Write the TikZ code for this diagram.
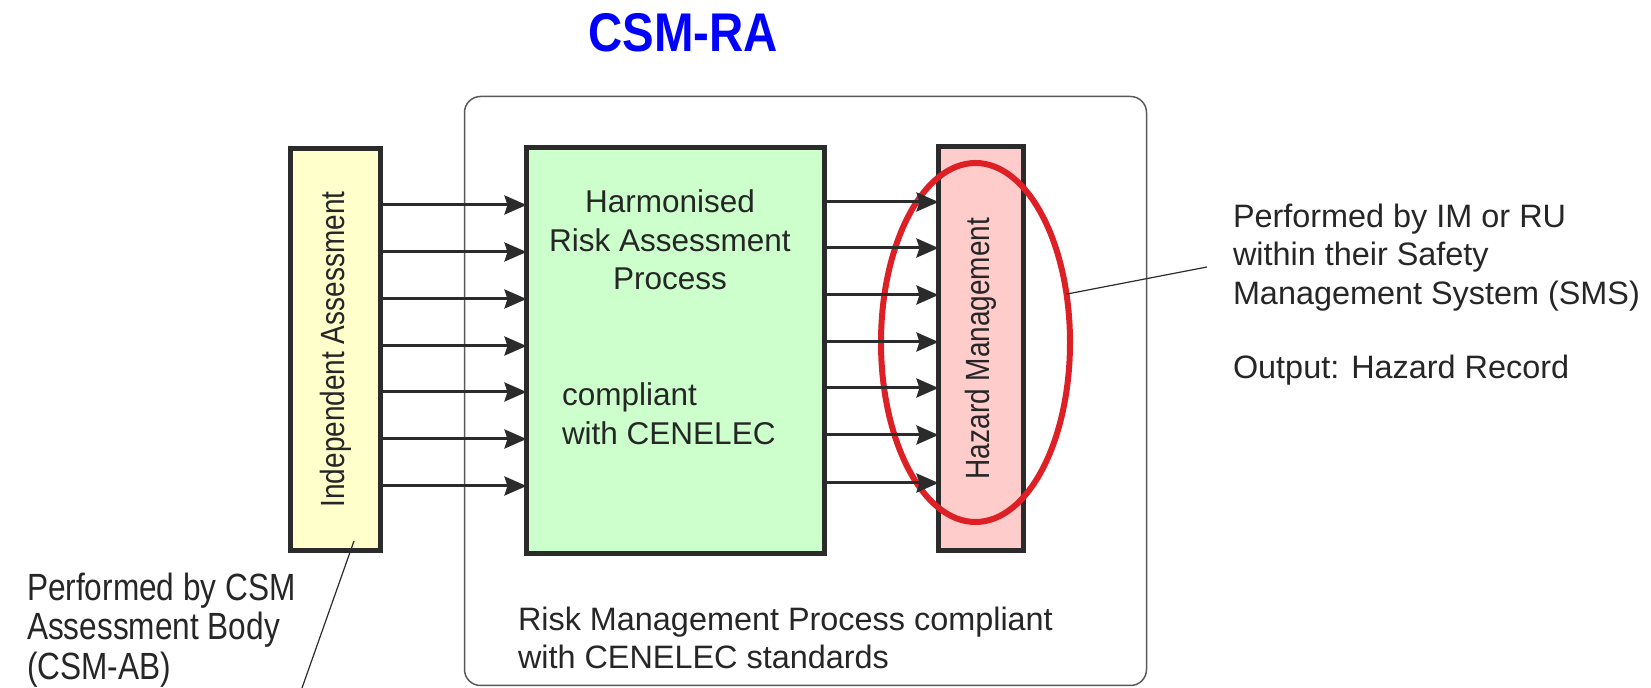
\documentclass[tikz,border=0pt]{standalone}
\usepackage{fontspec}
\setmainfont{Liberation Sans}
\usepackage{graphicx}
\usetikzlibrary{arrows.meta,shapes.geometric}
\definecolor{ink}{HTML}{262626}
\definecolor{edge}{HTML}{2B2B2B}
\definecolor{iafill}{HTML}{FFFFCC}
\definecolor{rafill}{HTML}{CCFFCC}
\definecolor{hmfill}{HTML}{FFCCCC}
\definecolor{ringred}{HTML}{DD1F26}
\definecolor{csmblue}{HTML}{0000FF}

\begin{document}
\begin{tikzpicture}[x=0.5pt,y=-0.5pt,
    every node/.style={inner sep=0pt,outer sep=0pt,text=ink},
    box/.style={draw=edge,line width=2.5pt,rectangle},
    note/.style={font=\fontsize{16.2}{19.25}\selectfont,align=left,anchor=north west},
    side/.style={font=\fontsize{14}{17}\selectfont},
    flow/.style={draw=edge,line width=1.5pt,-{Stealth[length=11pt,width=9.5pt,inset=1.5pt]}},
    leader/.style={draw=edge,line width=0.6pt}]
    \useasboundingbox (0,0) rectangle (1651,688);
    \node [font=\bfseries\fontsize{27.25}{32}\selectfont,text=csmblue,anchor=base] (csmra) at (683,52) {\scalebox{0.87}[1]{CSM-RA}};
    \node [draw=gray!70!black,line width=0.75pt,rounded corners=8pt,
           minimum width=341pt,minimum height=294.5pt] (rmp) at (805.5,391) {};
    \node [box,fill=iafill,side,minimum width=45pt,minimum height=201pt] (ia) at (335.5,349.5)
          {\rotatebox{90}{\scalebox{1}[1.2]{Independent Assessment}}};
    \node [box,fill=rafill,minimum width=149pt,minimum height=203pt] (ra) at (675.5,350.5) {};
    \node [box,fill=hmfill,side,minimum width=42.5pt,minimum height=202pt] (hm) at (981,348.5)
          {\rotatebox{90}{\scalebox{1}[1.2]{Hazard Management}}};
    \node [draw=ringred,line width=3pt,ellipse,minimum width=94.5pt,minimum height=179.5pt] (hzring) at (975.5,342.5) {};
    \foreach \y in {205,252,299,346,392,439,486}
      \draw [flow] (ia.east |- 0,\y) -- (ra.west |- 0,\y);
    \foreach \y in {202,248,295,342,388,435,483}
      \draw [flow] (ra.east |- 0,\y) -- (hm.west |- 0,\y);
    \node [note,font=\fontsize{15.75}{19.25}\selectfont,align=center,anchor=north] (raname) at (670,190) {Harmonised\\Risk Assessment\\Process};
    \node [note,font=\fontsize{15.75}{19.25}\selectfont] (rastd) at (562,383) {compliant\\with CENELEC};
    \node [note] (rmpnote) at (518,607) {Risk Management Process compliant\\with CENELEC standards};
    \node [note] (smsnote) at (1233,204) {Performed by IM or RU\\within their Safety\\Management System (SMS)\\[18pt]Output: Hazard Record};
    \node [note,font=\fontsize{15.8}{16.4}\selectfont] (csmnote) at (27,573)
          {\scalebox{1}[1.2]{\begin{tabular}{@{}l@{}}Performed by CSM\\Assessment Body\\(CSM-AB)\end{tabular}}};
    \coordinate (smsend) at (1207,267);
    \coordinate (csmend) at (302,688);
    \draw [leader] (hzring.28) -- (smsend);
    \draw [leader] ([xshift=9.25pt,yshift=4.75pt]ia.south) -- (csmend);
\end{tikzpicture}
\end{document}
